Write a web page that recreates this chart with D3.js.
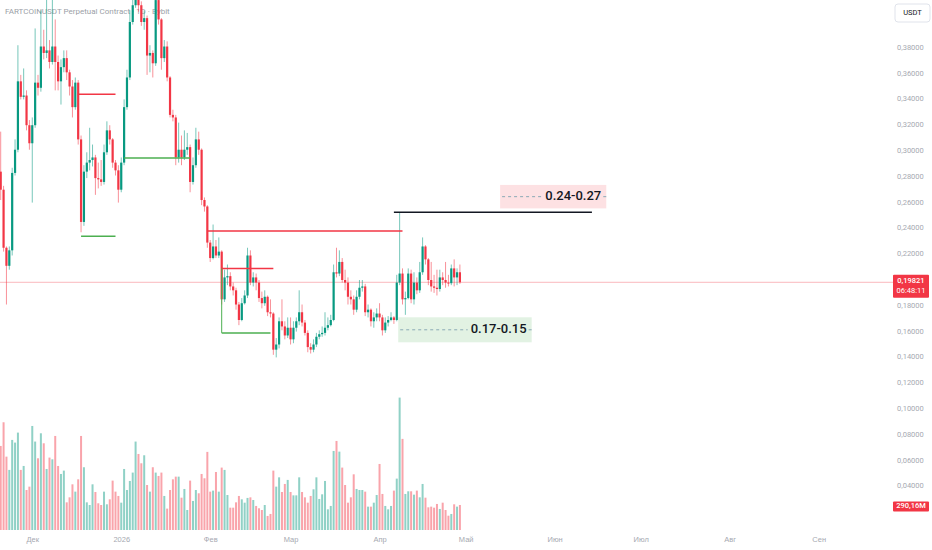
<!DOCTYPE html>
<html>
<head>
<meta charset="utf-8">
<script src="https://cdn.jsdelivr.net/npm/d3@7"></script>
<style>
  html, body { margin: 0; padding: 0; background: #fff; }
  svg { display: block; font-family: Roboto, "Noto Sans", sans-serif; }
</style>
</head>
<body>
<svg class="chart"></svg>
<script>
// daily candles, first one on startDay
var startDay = "2025-11-20";
var opens = [.284,.270,.225,.211,.223,.283,.301,.354,.342,.343,.320,.306,.320,.353,.349,.381,.376,.378,.369,.381,
  .369,.354,.365,.372,.361,.350,.334,.353,.309,.245,.284,.291,.293,.295,.279,.278,.276,.299,.316,.309,
  .291,.285,.270,.291,.334,.357,.400,.413,.429,.413,.400,.403,.374,.376,.368,.417,.402,.372,.381,.357,
  .328,.326,.295,.301,.295,.301,.303,.276,.289,.309,.301,.262,.257,.229,.217,.226,.219,.222,.185,.202,
  .203,.195,.192,.181,.169,.182,.188,.219,.198,.202,.198,.186,.182,.187,.175,.174,.146,.150,.168,.164,
  .157,.163,.154,.163,.168,.175,.167,.159,.148,.146,.150,.156,.158,.159,.163,.165,.169,.206,.205,.214,
  .200,.198,.187,.185,.177,.187,.194,.195,.175,.177,.168,.171,.174,.171,.161,.167,.169,.171,.169,.198,
  .205,.185,.186,.205,.185,.198,.192,.206,.226,.216,.200,.195,.194,.193,.202,.200,.198,.1975,.209,.202,
  .206];
var highs = [.315,.273,.226,.226,.287,.309,.382,.359,.364,.347,.324,.326,.395,.359,.409,.394,.421,.386,.423,.402,
  .374,.371,.378,.378,.363,.355,.357,.355,.312,.289,.299,.318,.305,.297,.291,.293,.305,.323,.320,.310,
  .293,.289,.295,.340,.363,.409,.429,.440,.439,.416,.409,.405,.382,.378,.433,.429,.403,.386,.385,.358,
  .332,.328,.322,.312,.316,.314,.305,.295,.318,.315,.302,.264,.258,.231,.243,.231,.233,.223,.208,.212,
  .206,.198,.194,.183,.186,.192,.225,.223,.206,.205,.200,.191,.192,.188,.185,.175,.155,.171,.185,.168,
  .171,.171,.168,.171,.192,.181,.169,.161,.151,.154,.159,.161,.164,.175,.171,.173,.212,.225,.223,.217,
  .208,.202,.192,.188,.192,.200,.200,.197,.181,.178,.175,.178,.182,.173,.171,.172,.175,.172,.204,.252,
  .209,.191,.209,.208,.206,.202,.214,.233,.227,.217,.214,.204,.208,.208,.206,.214,.204,.212,.216,.209,
  .212];
var lows = [.262,.222,.181,.208,.219,.281,.299,.340,.340,.316,.301,.260,.318,.343,.346,.371,.372,.364,.367,.347,
  .347,.336,.361,.355,.343,.326,.332,.305,.237,.242,.279,.285,.288,.266,.271,.273,.274,.297,.305,.287,
  .281,.260,.268,.289,.332,.355,.398,.411,.408,.397,.394,.359,.361,.357,.366,.398,.363,.369,.354,.326,
  .323,.289,.291,.289,.293,.297,.268,.274,.287,.297,.258,.253,.225,.214,.216,.217,.217,.181,.183,.196,
  .192,.188,.177,.165,.168,.181,.186,.196,.195,.192,.183,.178,.180,.172,.171,.142,.140,.147,.161,.154,
  .155,.150,.151,.160,.165,.164,.157,.144,.143,.144,.148,.154,.156,.157,.161,.164,.168,.202,.203,.198,
  .192,.181,.181,.173,.175,.185,.191,.172,.171,.164,.163,.168,.168,.157,.159,.164,.168,.166,.168,.196,
  .181,.173,.185,.182,.181,.189,.190,.204,.212,.196,.191,.190,.188,.191,.196,.194,.195,.196,.195,.196,
  .197];
var closes = [.270,.225,.211,.223,.283,.301,.354,.342,.343,.320,.306,.320,.353,.349,.381,.376,.378,.369,.381,.369,
  .354,.365,.372,.361,.350,.334,.353,.309,.245,.284,.291,.293,.295,.279,.278,.276,.299,.316,.309,.291,
  .285,.270,.291,.334,.357,.400,.413,.429,.413,.400,.403,.374,.376,.368,.417,.402,.372,.381,.357,.328,
  .326,.295,.301,.295,.301,.303,.276,.289,.309,.301,.262,.257,.229,.217,.226,.219,.222,.185,.202,.203,
  .195,.192,.181,.169,.182,.188,.219,.198,.202,.198,.186,.182,.187,.175,.174,.146,.150,.168,.164,.157,
  .163,.154,.163,.168,.175,.167,.159,.148,.146,.150,.156,.158,.159,.163,.165,.169,.206,.205,.214,.200,
  .198,.187,.185,.177,.187,.194,.195,.175,.177,.168,.171,.174,.171,.161,.167,.169,.171,.169,.198,.205,
  .185,.186,.205,.185,.198,.192,.206,.226,.216,.200,.195,.194,.193,.202,.200,.198,.1975,.209,.202,.206,
  .19821];
// volume in millions
var volumes = [975,1250,851,697,1045,1014,1130,697,743,464,503,1207,1026,832,1122,1006,708,840,820,1091,
  743,650,689,321,379,530,445,588,1091,728,321,290,530,441,310,290,445,298,356,573,
  445,395,317,708,464,569,666,1026,882,774,867,522,445,728,666,627,666,395,248,464,
  588,619,619,375,476,232,573,337,464,426,650,600,906,445,457,673,445,724,697,406,
  259,259,321,395,356,317,372,379,348,279,252,232,290,163,186,689,503,611,441,534,
  581,441,402,402,611,441,379,317,395,472,611,360,414,569,240,279,917,1033,909,724,
  522,317,379,646,476,464,464,445,271,271,317,406,766,418,279,240,279,457,596,1536,
  1057,418,449,449,410,457,379,534,375,263,271,259,302,244,317,232,166,186,298,271,
  290.16];

var monthLabels = ["Янв","Фев","Мар","Апр","Май","Июн","Июл","Авг","Сен","Окт","Ноя","Дек"];
// 0,20000 and 0,02000 sit under the last-price and volume tags, so they are left out
var priceTicks = [0.04,0.06,0.08,0.10,0.12,0.14,0.16,0.18,0.22,0.24,0.26,0.28,0.30,0.32,0.34,0.36,0.38];
var lastPrice = 0.19821;
var lastVolume = 290.16;
var countdown = "06:48:11";
var title = "FARTCOINUSDT Perpetual Contract · 1D · Bybit";
var currency = "USDT";

// hand drawn levels
var levels = [
  {kind: "res", from: "2025-12-17", to: "2025-12-30", price: 0.344},
  {kind: "sup", from: "2025-12-18", to: "2025-12-30", price: 0.234},
  {kind: "sup", from: "2026-01-02", to: "2026-01-25", price: 0.2946},
  {kind: "res", from: "2026-01-31", to: "2026-04-09", price: 0.238},
  {kind: "res", from: "2026-02-05", to: "2026-02-23", price: 0.209},
  {kind: "sup", from: "2026-02-05", to: "2026-02-22", price: 0.159, stem: 0.209},
  {kind: "target", from: "2026-04-06", to: "2026-06-14", price: 0.2526}
];
var zones = [
  {kind: "res", label: "0.24-0.27", from: "2026-05-13", to: "2026-06-19", top: 0.2737, bottom: 0.2555},
  {kind: "sup", label: "0.17-0.15", from: "2026-04-07T12:00:00Z", to: "2026-05-24", top: 0.1711, bottom: 0.1517}
];

function show() {
    'use strict';
    var width = 932, height = 550;
    var up = "#089981", down = "#f23645";
    var axisGrey = "#a6a9b1";

    var svg = d3.select(".chart")
        .attr("width", width)
        .attr("height", height);

    svg.append("rect").attr("width", width).attr("height", height).attr("fill", "#fff");

    var start = new Date(startDay);
    var x = d3.scaleUtc()
        .domain([start, new Date("2026-09-23")])
        .range([0.7, 881.8]);
    var y = d3.scaleLinear().domain([0.04, 0.40]).range([486.4, 22]);
    var yVol = d3.scaleLinear().domain([0, 1536]).range([530, 397.6]);

    var candles = closes.map(function(c, i) {
        return {date: d3.utcDay.offset(start, i), o: opens[i], h: highs[i], l: lows[i], c: c, v: volumes[i]};
    });
    var colorOf = function(d) { return d.c >= d.o ? up : down; };

    // title sits behind the candles
    svg.append("text")
        .attr("x", 5).attr("y", 12)
        .attr("dominant-baseline", "middle")
        .attr("font-size", 8)
        .attr("fill", "#9c9fa7")
        .text(title);

    // last price line
    svg.append("line")
        .attr("x1", 0).attr("x2", 893)
        .attr("y1", y(lastPrice)).attr("y2", y(lastPrice))
        .attr("stroke", down).attr("stroke-opacity", 0.35).attr("stroke-width", 1);

    // volume overlay
    svg.append("g").selectAll("rect")
        .data(candles)
        .enter().append("rect")
        .attr("x", function(d) { return x(d.date) - 1; })
        .attr("width", 2)
        .attr("y", function(d) { return yVol(d.v); })
        .attr("height", function(d) { return yVol(0) - yVol(d.v); })
        .attr("fill", colorOf)
        .attr("fill-opacity", 0.45);

    // candles
    var g = svg.append("g").selectAll("g")
        .data(candles)
        .enter().append("g");
    g.append("line")
        .attr("x1", function(d) { return x(d.date); })
        .attr("x2", function(d) { return x(d.date); })
        .attr("y1", function(d) { return y(d.h); })
        .attr("y2", function(d) { return y(d.l); })
        .attr("stroke", colorOf)
        .attr("stroke-opacity", 0.55)
        .attr("stroke-width", 1);
    g.append("rect")
        .attr("x", function(d) { return x(d.date) - 1.1; })
        .attr("width", 2.2)
        .attr("y", function(d) { return y(Math.max(d.o, d.c)); })
        .attr("height", function(d) { return Math.max(1, Math.abs(y(d.o) - y(d.c))); })
        .attr("fill", colorOf);

    // levels
    var levelColor = {res: "#f23645", sup: "#4caf50", target: "#131722"};
    levels.forEach(function(lv) {
        var x1 = x(new Date(lv.from)), x2 = x(new Date(lv.to));
        if (lv.stem) {
            svg.append("line")
                .attr("x1", x1).attr("x2", x1)
                .attr("y1", y(lv.stem)).attr("y2", y(lv.price))
                .attr("stroke", levelColor[lv.kind]).attr("stroke-width", 1);
        }
        svg.append("line")
            .attr("x1", x1).attr("x2", x2)
            .attr("y1", y(lv.price)).attr("y2", y(lv.price))
            .attr("stroke", levelColor[lv.kind]).attr("stroke-width", 1.5);
    });

    // zones with label
    var zoneFill = {res: "rgba(242,54,69,0.15)", sup: "rgba(76,175,80,0.16)"};
    zones.forEach(function(z) {
        var x1 = x(new Date(z.from)), x2 = x(new Date(z.to));
        var yt = y(z.top), yb = y(z.bottom), ym = (yt + yb) / 2;
        svg.append("rect")
            .attr("x", x1).attr("y", yt)
            .attr("width", x2 - x1).attr("height", yb - yt)
            .attr("fill", zoneFill[z.kind]);
        var t = svg.append("text")
            .attr("x", x2 - 5).attr("y", ym)
            .attr("text-anchor", "end")
            .attr("dominant-baseline", "middle")
            .attr("font-size", 13)
            .attr("font-weight", 500)
            .attr("fill", "#131722")
            .text(z.label);
        var tw = t.node().getComputedTextLength();
        [[x1 + 2, x2 - 5 - tw - 3], [x2 - 3, x2]].forEach(function(seg) {
            svg.append("line")
                .attr("x1", seg[0]).attr("x2", seg[1])
                .attr("y1", ym).attr("y2", ym)
                .attr("stroke", "#8aa9b5").attr("stroke-width", 1)
                .attr("stroke-dasharray", "3,3");
        });
    });

    // time axis
    var xAxis = d3.axisBottom(x)
        .ticks(d3.utcMonth)
        .tickSize(0)
        .tickPadding(0)
        .tickFormat(function(d) {
            return d.getUTCMonth() === 0 ? String(d.getUTCFullYear()) : monthLabels[d.getUTCMonth()];
        });
    var ax = svg.append("g").attr("transform", "translate(0,536.5)").call(xAxis);
    ax.select(".domain").remove();
    ax.selectAll("text").attr("font-size", 7.5).attr("fill", axisGrey).attr("font-family", null);

    // price axis
    var fmt = d3.format(".5f");
    svg.append("g").selectAll("text")
        .data(priceTicks)
        .enter().append("text")
        .attr("x", 897)
        .attr("y", function(d) { return y(d); })
        .attr("dominant-baseline", "middle")
        .attr("font-size", 7.5)
        .attr("fill", axisGrey)
        .text(function(d) { return fmt(d).replace(".", ","); });

    // currency button
    svg.append("rect")
        .attr("x", 895).attr("y", 4).attr("width", 35).attr("height", 18).attr("rx", 3)
        .attr("fill", "#fff").attr("stroke", "#e0e3eb");
    svg.append("text")
        .attr("x", 912.5).attr("y", 13.5)
        .attr("text-anchor", "middle").attr("dominant-baseline", "middle")
        .attr("font-size", 7.5).attr("fill", "#131722")
        .text(currency);

    // last price label
    svg.append("rect")
        .attr("x", 893).attr("y", y(lastPrice) - 7.5).attr("width", 36).attr("height", 23).attr("rx", 1)
        .attr("fill", down);
    svg.append("text")
        .attr("x", 911).attr("y", y(lastPrice) - 1)
        .attr("text-anchor", "middle").attr("dominant-baseline", "middle")
        .attr("font-size", 7.5).attr("font-weight", 500).attr("fill", "#fff")
        .text(fmt(lastPrice).replace(".", ","));
    svg.append("text")
        .attr("x", 911).attr("y", y(lastPrice) + 9)
        .attr("text-anchor", "middle").attr("dominant-baseline", "middle")
        .attr("font-size", 7.5).attr("fill", "#fff")
        .text(countdown);

    // last volume label
    svg.append("rect")
        .attr("x", 893).attr("y", yVol(lastVolume) - 3.5).attr("width", 36).attr("height", 10).attr("rx", 1)
        .attr("fill", down);
    svg.append("text")
        .attr("x", 911).attr("y", yVol(lastVolume) + 1.5)
        .attr("text-anchor", "middle").attr("dominant-baseline", "middle")
        .attr("font-size", 7.5).attr("font-weight", 500).attr("fill", "#fff")
        .text(d3.format(".2f")(lastVolume).replace(".", ",") + "M");
}

show();
</script>
</body>
</html>
